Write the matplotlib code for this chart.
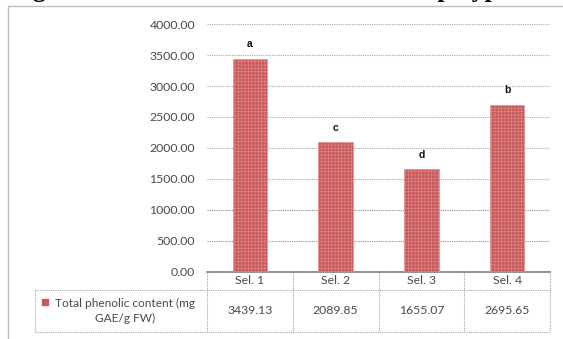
import matplotlib
matplotlib.use("Agg")
import matplotlib.pyplot as plt
import matplotlib.transforms as mtransforms
from matplotlib.patches import Rectangle

selections = ["Sel. 1", "Sel. 2", "Sel. 3", "Sel. 4"]
phenolic = [3439.13, 2089.85, 1655.07, 2695.65]
letters = ["a", "c", "d", "b"]
series_name = "Total phenolic content (mg\nGAE/g FW)"
yticks = [0, 500, 1000, 1500, 2000, 2500, 3000, 3500, 4000]
title = "Figure 2: Variations in total content of polyphenols"

W, H = 563, 339
bar_red = "#C8585A"
txt_grey = "#4A4A4A"
line_grey = "#A6A6A6"

plt.rcParams["hatch.linewidth"] = 0.35

fig = plt.figure(figsize=(W / 100, H / 100), dpi=100)
ax = fig.add_axes([207 / W, 1 - 271.7 / H, 343 / W, (271.7 - 24.1) / H])

x = list(range(len(selections)))
ax.bar(x, phenolic, width=0.40, color=bar_red, edgecolor="#E39494",
       linewidth=0.5, hatch="+++++", zorder=3)

for xi, v, lab in zip(x, phenolic, letters):
    ax.annotate(lab, (xi, v), xytext=(0, 7), textcoords="offset points",
                ha="center", va="bottom", fontsize=7.5, fontweight="bold",
                family="Liberation Sans", color="#111111")

ax.set_xlim(-0.5, 3.5)
ax.set_ylim(0, 4000)
ax.set_yticks(yticks)
ax.set_yticklabels(["%.2f" % t for t in yticks], family="Lato",
                   fontsize=8.8, color=txt_grey)
ax.set_xticks([])
ax.tick_params(axis="y", length=0, pad=8.6)
ax.yaxis.grid(True, linestyle=(0, (1, 1)), color=line_grey, linewidth=0.8, zorder=0)
for i, gl in enumerate(ax.yaxis.get_gridlines()):
    if yticks[i] in (500, 1000):
        gl.set_color("#8C8C8C")
for s in ["top", "right", "left"]:
    ax.spines[s].set_visible(False)
ax.spines["bottom"].set_color("#7F7F7F")
ax.spines["bottom"].set_linewidth(1.2)

# data table under the axis: x in data units, y in axes fraction
tr = mtransforms.blended_transform_factory(ax.transData, ax.transAxes)
ax_h = 271.7 - 24.1
hdr_y = -18.3 / ax_h
bot_y = -60.3 / ax_h
left_x = -0.5 - (207 - 35) / 85.75
tbl = dict(color=line_grey, linewidth=0.8, linestyle=(0, (1, 1)),
           transform=tr, clip_on=False)
for b in [-0.5, 0.5, 1.5, 2.5, 3.5]:
    ax.plot([b, b], [0, bot_y], **tbl)
ax.plot([left_x, 3.5], [hdr_y, hdr_y], **tbl)
ax.plot([left_x, 3.5], [bot_y, bot_y], **tbl)
ax.plot([left_x, left_x], [hdr_y, bot_y], **tbl)

mid_y = (hdr_y + bot_y) / 2
for xi, name, v in zip(x, selections, phenolic):
    ax.text(xi, hdr_y / 2, name, transform=tr, ha="center", va="center",
            family="Lato", fontsize=8.8, color=txt_grey)
    ax.text(xi, mid_y, "%.2f" % v, transform=tr, ha="center", va="center",
            family="Lato", fontsize=8.8, color=txt_grey)

legend_cx = (left_x - 0.5) / 2 + 0.05
ax.text(legend_cx, mid_y, series_name, transform=tr, ha="center",
        va="center", family="Lato", fontsize=8.6, color=txt_grey,
        linespacing=1.35)
ax.plot([left_x + 0.12], [mid_y + 0.035], marker="s", markersize=4.5,
        color=bar_red, transform=tr, clip_on=False)

# chart area border
fig.add_artist(Rectangle((8 / W, -0.1), 1.2, 1.1 - 6.5 / H, fill=False,
                         edgecolor="#BFBFBF", linewidth=1.0,
                         transform=fig.transFigure))

# caption line above the chart, mostly cut off by the page edge
fig.text(10 / W, 1 + 2.5 / H, title, va="baseline", ha="left",
         family="Liberation Serif", fontweight="bold", fontsize=18.5,
         color="black")

fig.savefig("out.png", dpi=100)
